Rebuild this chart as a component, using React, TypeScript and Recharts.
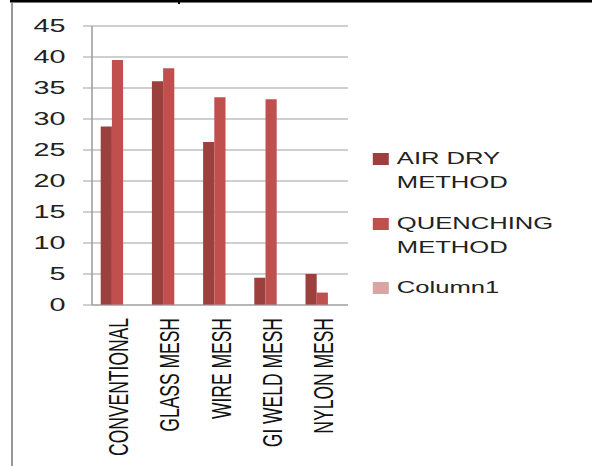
import React from 'react';
import { BarChart, Bar, XAxis, YAxis, CartesianGrid, Legend } from 'recharts';

const categories = ['CONVENTIONAL', 'GLASS MESH', 'WIRE MESH', 'GI WELD MESH', 'NYLON MESH'];
const airDry = [28.8, 36.1, 26.3, 4.4, 5.0];
const quenching = [39.5, 38.2, 33.5, 33.2, 2.0];
const column1: (number | null)[] = [null, null, null, null, null];
const yTicks = [0, 5, 10, 15, 20, 25, 30, 35, 40, 45];
const boundaryTicks = [0, 1, 2, 3, 4, 5];

const seriesKeys = ['airDry', 'quenching', 'column1'];
const seriesNames = {
  airDry: 'AIR DRY METHOD',
  quenching: 'QUENCHING METHOD',
  column1: 'Column1',
};

const data = categories.map((c, i) => ({
  category: c,
  airDry: airDry[i],
  quenching: quenching[i],
  column1: column1[i],
}));

const FONT = '"Liberation Sans", Arial, sans-serif';
const GRID = '#A0A0A0';
const SCALE = 1.6;

const XTick = (props: any) => {
  const { x, y, payload } = props;
  return (
    <text
      x={x}
      y={y}
      transform={`rotate(-90 ${x} ${y})`}
      textAnchor="end"
      dy="0.38em"
      fill="#111"
      style={{ fontFamily: FONT, fontSize: 17.5 }}
    >
      {payload.value}
    </text>
  );
};

const LegendContent = (props: any) => {
  const items = [...(props.payload || [])].sort(
    (a: any, b: any) => seriesKeys.indexOf(a.dataKey) - seriesKeys.indexOf(b.dataKey)
  );
  return (
    <div style={{ fontFamily: FONT, fontSize: 16, lineHeight: '24px', color: '#222' }}>
      {items.map((e: any, i: number) => (
        <div key={i} style={{ display: 'flex', alignItems: 'flex-start', marginBottom: 16.5 }}>
          <span
            style={{
              width: 10.5,
              height: 12,
              background: e.color,
              marginTop: 6,
              marginRight: 5,
              flex: 'none',
              display: 'inline-block',
            }}
          />
          <span style={{ width: 110 }}>{e.value}</span>
        </div>
      ))}
    </div>
  );
};

export default function App() {
  return (
    <div
      style={{
        position: 'fixed',
        left: 0,
        top: 0,
        width: 592,
        height: 466,
        background: '#fff',
        overflow: 'hidden',
      }}
    >
      {/* page table borders */}
      <div style={{ position: 'absolute', left: 10, top: 0, width: 582, height: 2, background: '#000' }} />
      <div style={{ position: 'absolute', left: 10, top: 2, width: 582, height: 1, background: '#777' }} />
      <div style={{ position: 'absolute', left: 178, top: 0, width: 2, height: 4, background: '#000' }} />
      <div style={{ position: 'absolute', left: 11, top: 3, width: 2, height: 463, background: '#999' }} />

      <div
        style={{
          position: 'absolute',
          left: 0,
          top: 0,
          width: 370,
          height: 466,
          transform: `scaleX(${SCALE})`,
          transformOrigin: '0 0',
          fontFamily: FONT,
        }}
      >
        <BarChart
          width={370}
          height={466}
          data={data}
          margin={{ top: 26, right: 152.5, left: 0, bottom: 0 }}
          barCategoryGap="17%"
          barGap={0}
        >
          <CartesianGrid vertical={false} stroke={GRID} strokeWidth={1} />
          <XAxis
            xAxisId="bounds"
            type="number"
            domain={[0, 5]}
            ticks={boundaryTicks}
            allowDataOverflow
            height={0}
            tick={false}
            tickSize={8}
            tickLine={{ stroke: GRID }}
            axisLine={false}
          />
          <XAxis
            dataKey="category"
            height={161}
            interval={0}
            tickLine={false}
            tickSize={0}
            tickMargin={13}
            axisLine={{ stroke: GRID }}
            tick={<XTick />}
          />
          <YAxis
            domain={[0, 45]}
            ticks={yTicks}
            interval={0}
            width={57.5}
            tickSize={5.6}
            tickMargin={11}
            axisLine={{ stroke: GRID }}
            tickLine={{ stroke: GRID }}
            tick={{ fill: '#222', fontSize: 18, fontFamily: FONT }}
          />
          <Legend
            layout="vertical"
            align="center"
            verticalAlign="middle"
            content={<LegendContent />}
            wrapperStyle={{ left: 232.5, top: 147, width: 140 }}
          />
          <Bar dataKey="airDry" name={seriesNames.airDry} fill="#9C403E" isAnimationActive={false} />
          <Bar dataKey="quenching" name={seriesNames.quenching} fill="#C0504D" isAnimationActive={false} />
          <Bar dataKey="column1" name={seriesNames.column1} fill="#DAA5A4" isAnimationActive={false} />
        </BarChart>
      </div>
    </div>
  );
}
